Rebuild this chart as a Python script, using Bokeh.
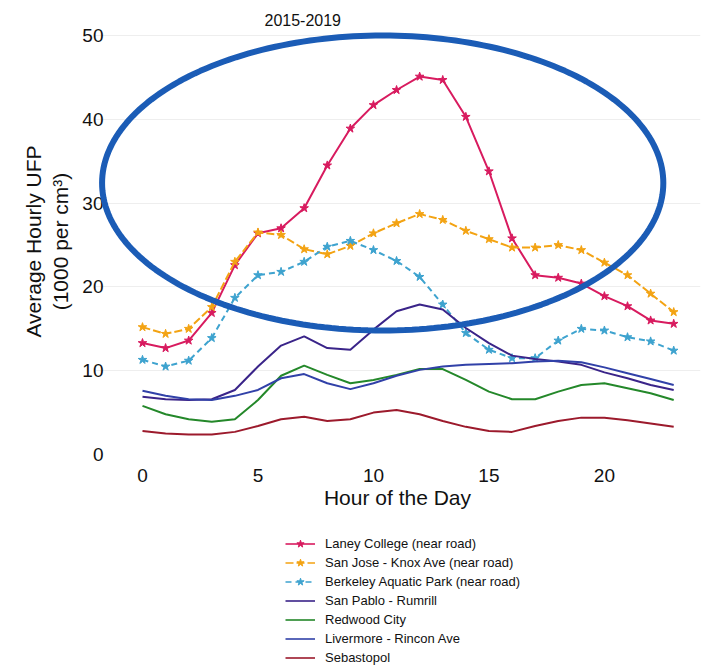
import numpy as np
from bokeh.plotting import figure
from bokeh.layouts import column
from bokeh.models import Legend, LegendItem, PolyAnnotation, Range1d, FixedTicker
from bokeh.embed import file_html
from bokeh.resources import INLINE

# ---------------- data ----------------
hours = list(range(24))

laney = [13.3, 12.7, 13.6, 16.9, 22.6, 26.4, 27.0, 29.4, 34.5, 38.9, 41.7, 43.5,
         45.1, 44.7, 40.3, 33.8, 25.8, 21.4, 21.1, 20.4, 18.9, 17.7, 16.0, 15.6]
san_jose = [15.2, 14.4, 15.0, 17.6, 23.0, 26.5, 26.2, 24.5, 23.9, 24.9, 26.4, 27.6,
            28.7, 28.0, 26.7, 25.7, 24.7, 24.7, 25.0, 24.4, 22.9, 21.4, 19.2, 17.0]
berkeley = [11.3, 10.5, 11.2, 13.9, 18.7, 21.4, 21.8, 23.0, 24.8, 25.5, 24.4, 23.1,
            21.2, 17.9, 14.5, 12.5, 11.5, 11.5, 13.6, 15.0, 14.8, 14.0, 13.5, 12.4]
san_pablo = [6.9, 6.6, 6.5, 6.6, 7.7, 10.5, 13.0, 14.1, 12.7, 12.5, 14.9, 17.1,
             17.9, 17.3, 15.1, 13.3, 11.8, 11.4, 11.1, 10.7, 9.8, 9.1, 8.3, 7.7]
redwood = [5.8, 4.8, 4.2, 3.9, 4.2, 6.5, 9.4, 10.6, 9.5, 8.5, 8.9, 9.5,
           10.2, 10.2, 8.9, 7.5, 6.6, 6.6, 7.5, 8.3, 8.5, 7.9, 7.3, 6.5]
livermore = [7.6, 7.0, 6.6, 6.5, 7.0, 7.7, 9.1, 9.6, 8.5, 7.8, 8.5, 9.4,
             10.1, 10.5, 10.7, 10.8, 10.9, 11.1, 11.2, 11.0, 10.4, 9.7, 9.0, 8.3]
sebastopol = [2.8, 2.5, 2.4, 2.4, 2.7, 3.4, 4.2, 4.5, 4.0, 4.2, 5.0, 5.3,
              4.8, 4.0, 3.3, 2.8, 2.7, 3.4, 4.0, 4.4, 4.4, 4.1, 3.7, 3.3]

names = ["Laney College (near road)", "San Jose - Knox Ave (near road)",
         "Berkeley Aquatic Park (near road)", "San Pablo - Rumrill", "Redwood City",
         "Livermore - Rincon Ave", "Sebastopol"]
values = [laney, san_jose, berkeley, san_pablo, redwood, livermore, sebastopol]
colors = ["#d81b5f", "#f3a313", "#3ea3cf", "#3a2489", "#24882a", "#3141a8", "#9c1a2c"]
dashes = ["solid", "8 3", "6 4", "solid", "solid", "solid", "solid"]
has_marker = [True, True, True, False, False, False, False]

x_ticks = [0, 5, 10, 15, 20]
y_ticks = [0, 10, 20, 30, 40, 50]

# highlight ellipse (data units)
ELL_CX, ELL_CY, ELL_RX, ELL_RY = 10.4, 32.4, 12.15, 17.6

FONT = "Liberation Sans"

# ---------------- main figure ----------------
TOP, FRAME_H, BOTTOM = 28, 426, 64
p = figure(frame_width=606, frame_height=FRAME_H,
           min_border_left=94, min_border_right=4,
           min_border_top=TOP, min_border_bottom=BOTTOM,
           x_range=Range1d(-2.078, 24.16), y_range=Range1d(0, 50.84),
           output_backend="svg", toolbar_location=None,
           background_fill_color="white", border_fill_color="white")

p.title.text = "2015-2019"
p.title.align = "left"
p.title.offset = 170
p.title.standoff = 6
p.title.text_font = FONT
p.title.text_font_size = "16px"
p.title.text_font_style = "normal"
p.title.text_color = "#111111"

p.outline_line_color = None
p.xgrid.grid_line_color = None
p.ygrid.grid_line_color = "#eeeeee"
p.ygrid.ticker = FixedTicker(ticks=y_ticks)

p.xaxis.ticker = FixedTicker(ticks=x_ticks)
p.yaxis.ticker = FixedTicker(ticks=y_ticks)
for ax in (p.xaxis[0], p.yaxis[0]):
    ax.axis_line_color = None
    ax.major_tick_line_color = None
    ax.minor_tick_line_color = None
    ax.major_tick_out = 0
    ax.major_tick_in = 0
    ax.major_label_text_font = FONT
    ax.major_label_text_font_size = "19px"
    ax.major_label_text_color = "#111111"
    ax.axis_label_text_font = FONT
    ax.axis_label_text_font_size = "21px"
    ax.axis_label_text_font_style = "normal"
    ax.axis_label_text_color = "#111111"

p.xaxis.axis_label = "Hour of the Day"
p.xaxis.major_label_standoff = 14
p.xaxis.axis_label_standoff = 1
p.yaxis.axis_label = "Average Hourly UFP\n(1000 per cm³)"
p.yaxis.major_label_standoff = -9
p.yaxis.axis_label_standoff = 7

for vals, col, dash, mk in zip(values, colors, dashes, has_marker):
    p.line(hours, vals, line_color=col, line_width=2, line_dash=dash)
    if mk:
        p.scatter(hours, vals, marker="star", size=9, fill_color=col, line_color=col)

theta = np.linspace(0, 2 * np.pi, 241)
ell = PolyAnnotation(xs=list(ELL_CX + ELL_RX * np.cos(theta)),
                     ys=list(ELL_CY + ELL_RY * np.sin(theta)),
                     fill_color=None, fill_alpha=0,
                     line_color="#1b5cb6", line_alpha=1.0, line_width=6)
p.add_layout(ell)

# ---------------- legend strip (frame aligned with the main plot) ----------------
H1 = TOP + FRAME_H + BOTTOM
H2 = 667 - H1
q = figure(width=704, height=H2, min_border=0,
           x_range=Range1d(0, 1), y_range=Range1d(1000, 1001),
           output_backend="svg", toolbar_location=None,
           background_fill_color="white", border_fill_color="white")
q.axis.visible = False
q.grid.visible = False
q.outline_line_color = None

items = []
for name, vals, col, dash, mk in zip(names, values, colors, dashes, has_marker):
    # same series, outside this strip's visible range: only their legend swatches show
    rs = [q.line(hours, vals, line_color=col, line_width=1.6, line_dash=dash)]
    if mk:
        rs.append(q.scatter(hours, vals, marker="star", size=5,
                            fill_color=col, line_color=col))
    items.append(LegendItem(label=name, renderers=rs))

legend = Legend(items=items, location=(191, 0), orientation="vertical",
                label_text_font=FONT, label_text_font_size="13px",
                label_text_color="#111111",
                glyph_width=30, glyph_height=19, label_height=19,
                spacing=0, padding=0, margin=0, label_standoff=10,
                border_line_color=None, background_fill_alpha=0)
q.add_layout(legend, "center")

layout = column(p, q, spacing=0)
open("out.html", "w").write(file_html(layout, INLINE))
